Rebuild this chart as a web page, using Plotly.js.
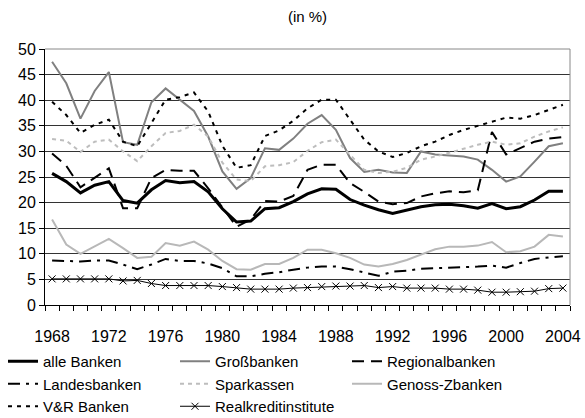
<!DOCTYPE html>
<html>
<head>
<meta charset="utf-8">
<script src="https://cdn.plot.ly/plotly-3.0.1.min.js"></script>
<style>
html,body{margin:0;padding:0;background:#fff;}
#chart{width:585px;height:418px;}
</style>
</head>
<body>
<div id="chart"></div>
<script>
const years = [1968,1969,1970,1971,1972,1973,1974,1975,1976,1977,1978,1979,1980,1981,1982,1983,1984,1985,1986,1987,1988,1989,1990,1991,1992,1993,1994,1995,1996,1997,1998,1999,2000,2001,2002,2003,2004];
const tickYears = [1968,1972,1976,1980,1984,1988,1992,1996,2000,2004];

const alleBanken = [25.7,24.1,21.9,23.4,24.1,20.4,19.9,22.5,24.3,23.9,24.1,22.1,18.8,16.2,16.4,18.8,19.0,20.2,21.7,22.7,22.6,20.6,19.5,18.6,17.9,18.5,19.2,19.6,19.7,19.4,18.9,19.8,18.8,19.2,20.5,22.2,22.2];
const grossbanken = [47.5,43.3,36.4,41.8,45.5,31.8,31.3,39.6,42.3,40.1,37.9,32.9,26.1,22.7,24.8,30.6,30.3,32.5,35.4,37.1,34.2,28.7,26.0,26.4,25.9,25.8,30.0,29.4,29.2,29.0,28.4,26.4,24.1,25.1,28.0,31.0,31.6];
const regionalbanken = [29.6,27.2,23.0,24.9,26.7,18.9,18.9,24.8,26.4,26.2,26.2,22.8,19.0,15.3,16.7,20.3,20.2,21.3,26.4,27.4,27.4,23.8,22.1,20.2,19.7,19.9,21.2,21.8,22.2,22.0,22.4,33.8,29.4,30.6,31.9,32.5,32.8];
const landesbanken = [8.7,8.6,8.5,8.7,8.7,7.9,7.0,7.9,9.0,8.6,8.6,8.1,7.2,5.6,5.6,6.1,6.4,6.9,7.3,7.5,7.5,7.0,6.3,5.7,6.5,6.7,7.1,7.2,7.3,7.3,7.5,7.7,7.3,8.2,9.0,9.3,9.5];
const sparkassen = [32.4,32.1,29.9,31.9,32.3,30.0,28.1,31.0,33.6,34.0,35.2,32.9,27.8,24.5,24.2,27.1,27.3,27.9,30.1,31.8,32.3,29.4,26.4,25.8,26.0,26.8,28.4,29.0,29.7,30.5,31.3,31.9,31.3,31.6,32.9,33.9,34.7];
const genossZbanken = [16.7,11.8,10.0,11.4,12.9,11.1,9.2,9.4,12.1,11.6,12.4,10.8,8.6,7.0,6.9,8.0,8.0,9.2,10.8,10.8,10.1,9.2,7.9,7.5,8.0,8.8,9.8,10.9,11.4,11.4,11.6,12.3,10.3,10.5,11.4,13.7,13.4];
const vrBanken = [39.7,37.1,33.6,35.2,36.2,31.9,31.0,35.5,40.1,40.6,41.5,37.8,31.1,26.8,27.3,33.0,34.1,36.0,38.4,40.1,40.1,36.2,32.3,30.0,28.9,29.7,31.0,31.9,33.2,34.2,35.0,35.8,36.6,36.4,37.1,38.1,39.1];
const realkredit = [5.1,5.1,5.1,5.1,5.1,4.7,4.8,4.2,3.8,3.8,3.8,3.8,3.6,3.4,3.1,3.1,3.1,3.3,3.4,3.6,3.7,3.7,3.8,3.4,3.6,3.3,3.3,3.3,3.1,3.1,2.9,2.5,2.5,2.6,2.7,3.2,3.3];

const FONT = "'Liberation Sans', Arial, Helvetica, sans-serif";

function tr(name, y, line, extra) {
  return Object.assign({type:'scatter', mode:'lines', x: years, y: y, name: name, line: line, hoverinfo:'skip'}, extra || {});
}

const traces = [
  tr('alle Banken', alleBanken, {color:'#000000', width:3}),
  tr('Großbanken', grossbanken, {color:'#808080', width:2}),
  tr('Regionalbanken', regionalbanken, {color:'#000000', width:2, dash:'12px,7px'}),
  tr('Landesbanken', landesbanken, {color:'#000000', width:2, dash:'12px,6px,3px,6px'}),
  tr('Sparkassen', sparkassen, {color:'#bdbdbd', width:2, dash:'4px,4px'}),
  tr('Genoss-Zbanken', genossZbanken, {color:'#b8b8b8', width:2}),
  tr('V&R Banken', vrBanken, {color:'#000000', width:2, dash:'4px,5px'}),
  tr('Realkreditinstitute', realkredit, {color:'#000000', width:1},
     {mode:'lines+markers', marker:{symbol:'x-thin-open', size:7, color:'#000', line:{color:'#000', width:1}}})
];

const layout = {
  width:585, height:418,
  margin:{l:45, r:15, t:49, b:113, pad:0, autoexpand:false},
  paper_bgcolor:'#fff', plot_bgcolor:'#fff',
  font:{family:FONT, size:16, color:'#000'},
  showlegend:true,
  title:{text:'(in %)', font:{family:FONT, size:15, color:'#000'}, x:0.5, xref:'paper', y:1-17/418, yref:'container', yanchor:'middle', xanchor:'center', automargin:false},
  xaxis:{
    range:[1967.5, 2004.5], automargin:false,
    tickmode:'array', tickvals: tickYears, ticktext: tickYears.map(String),
    ticks:'', showgrid:false, zeroline:false,
    showline:true, linecolor:'#000', linewidth:1,
    ticklabelstandoff: 17,
    tickfont:{family:FONT, size:16, color:'#000'},
    minor:{tick0:1967.5, dtick:1, ticks:'outside', ticklen:5, tickcolor:'#000', tickwidth:1, showgrid:false}
  },
  yaxis:{
    range:[0,50], dtick:5, tick0:0, automargin:false,
    ticks:'outside', ticklen:5, tickcolor:'#000', tickwidth:1,
    showline:true, linecolor:'#000', linewidth:1,
    showgrid:true, gridcolor:'#333', gridwidth:1, zeroline:false,
    tickfont:{family:FONT, size:16, color:'#000'}
  },
  legend:{
    orientation:'h', xref:'container', x:3/585, xanchor:'left', yref:'container', y:1-345/418, yanchor:'top',
    entrywidth:127, entrywidthmode:'pixels',
    font:{family:FONT, size:15, color:'#000'},
    itemwidth:30, tracegroupgap:0, bgcolor:'rgba(0,0,0,0)'
  },
  shapes:[
    {type:'line', xref:'paper', yref:'paper', x0:1, x1:1, y0:0, y1:1, line:{color:'#888', width:1}},
    {type:'line', xref:'paper', yref:'paper', x0:0, x1:1, y0:1, y1:1, line:{color:'#888', width:1}}
  ]
};

Plotly.newPlot('chart', traces, layout, {displayModeBar:false, staticPlot:true});
</script>
</body>
</html>
